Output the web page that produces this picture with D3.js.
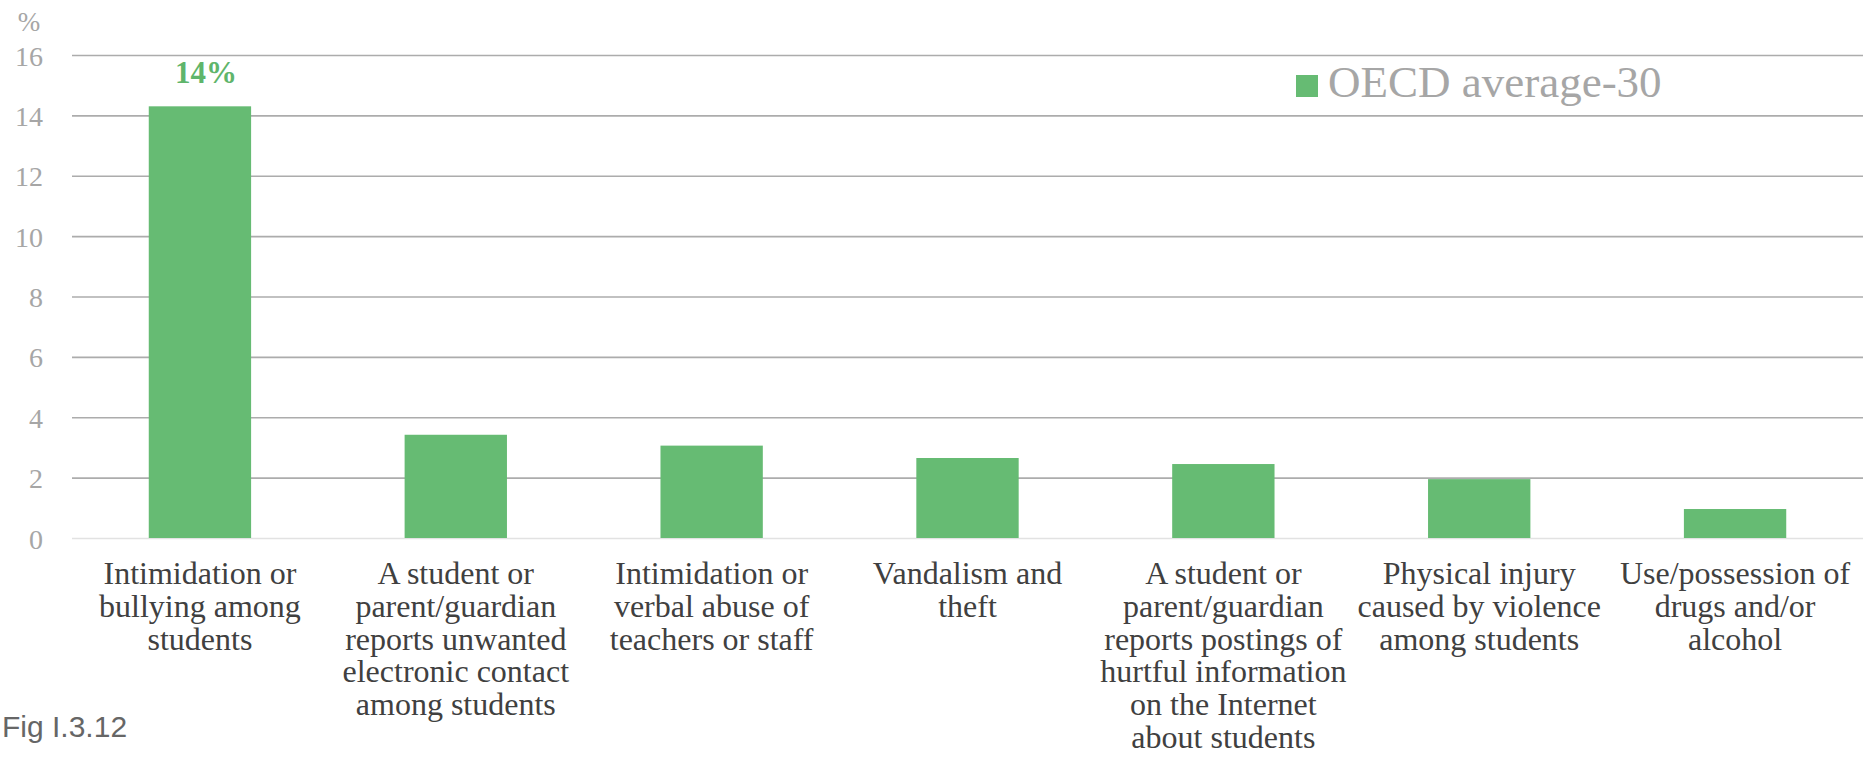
<!DOCTYPE html>
<html>
<head>
<meta charset="utf-8">
<script src="https://cdn.jsdelivr.net/npm/d3@7"></script>
<style>
  html, body { margin: 0; padding: 0; background: #fff; }
  svg { display: block; }
</style>
</head>
<body>
<svg id="chart" width="1874" height="757"></svg>
<script>
// Incident categories (each entry is the label split into its lines)
const categories = [
  ["Intimidation or", "bullying among", "students"],
  ["A student or", "parent/guardian", "reports unwanted", "electronic contact", "among students"],
  ["Intimidation or", "verbal abuse of", "teachers or staff"],
  ["Vandalism and", "theft"],
  ["A student or", "parent/guardian", "reports postings of", "hurtful information", "on the Internet", "about students"],
  ["Physical injury", "caused by violence", "among students"],
  ["Use/possession of", "drugs and/or", "alcohol"]
];

// Share of principals reporting the incident, OECD average-30 (%)
const oecdAverage = [14.3, 3.42, 3.06, 2.65, 2.45, 1.95, 0.96];

// Only the first bar carries a value label
const labelledBars = [0];

const yTicks = [0, 2, 4, 6, 8, 10, 12, 14, 16];
const seriesName = "OECD average-30";
const figureNote = "Fig I.3.12";

const serif = "'Liberation Serif', 'Times New Roman', serif";
const green = "#66bb73";

const svg = d3.select("#chart");

const x = d3.scaleBand()
  .domain(d3.range(categories.length))
  .range([72, 1863])
  .paddingInner(0.6)
  .paddingOuter(0.3);

const y = d3.scaleLinear()
  .domain([0, 16])
  .range([538, 55]);

// Horizontal gridlines with tick labels on the left
const yAxis = d3.axisLeft(y)
  .tickValues(yTicks)
  .tickSize(-(1863 - 72))
  .tickPadding(29)
  .tickFormat(d3.format("d"));

const gy = svg.append("g")
  .attr("transform", "translate(72,0)")
  .call(yAxis);
gy.select(".domain").remove();
gy.selectAll(".tick line")
  .attr("stroke", d => d === 0 ? "#e2e2e2" : "#acacac")
  .attr("stroke-width", 1.6);
gy.selectAll(".tick text")
  .attr("fill", "#a6a6a6")
  .attr("font-family", serif)
  .attr("font-size", 28)
  .attr("dy", "0.36em");

// Unit label above the axis
svg.append("text")
  .attr("x", 29)
  .attr("y", 31)
  .attr("text-anchor", "middle")
  .attr("fill", "#a6a6a6")
  .attr("font-family", serif)
  .attr("font-size", 27)
  .text("%");

// Bars
svg.append("g")
  .selectAll("rect")
  .data(oecdAverage)
  .join("rect")
  .attr("x", (d, i) => x(i))
  .attr("width", x.bandwidth())
  .attr("y", d => y(d))
  .attr("height", d => y(0) - y(d))
  .attr("fill", green);

// Value label
svg.append("g")
  .selectAll("text")
  .data(labelledBars)
  .join("text")
  .attr("x", i => x(i) + x.bandwidth() / 2 + 6)
  .attr("y", i => y(oecdAverage[i]) - 23)
  .attr("text-anchor", "middle")
  .attr("fill", "#5fb56b")
  .attr("font-family", serif)
  .attr("font-weight", "bold")
  .attr("font-size", 31)
  .text(i => d3.format(".0f")(oecdAverage[i]) + "%");

// Category labels, one tspan per line
const catLabels = svg.append("g")
  .selectAll("text")
  .data(categories)
  .join("text")
  .attr("transform", (d, i) => `translate(${x(i) + x.bandwidth() / 2},584)`)
  .attr("text-anchor", "middle")
  .attr("fill", "#404040")
  .attr("font-family", serif)
  .attr("font-size", 32);
catLabels.selectAll("tspan")
  .data(d => d)
  .join("tspan")
  .attr("x", 0)
  .attr("y", (d, j) => j * 32.8)
  .text(d => d);

// Legend
const legend = svg.append("g");
legend.append("rect")
  .attr("x", 1296)
  .attr("y", 75)
  .attr("width", 22)
  .attr("height", 22)
  .attr("fill", green);
legend.append("text")
  .attr("x", 1328)
  .attr("y", 97)
  .attr("fill", "#a6a6a6")
  .attr("font-family", serif)
  .attr("font-size", 45)
  .text(seriesName);

// Figure reference in the lower left corner
svg.append("text")
  .attr("x", 2)
  .attr("y", 737)
  .attr("fill", "#666666")
  .attr("font-family", "'Liberation Sans', Arial, sans-serif")
  .attr("font-size", 30)
  .text(figureNote);
</script>
</body>
</html>
